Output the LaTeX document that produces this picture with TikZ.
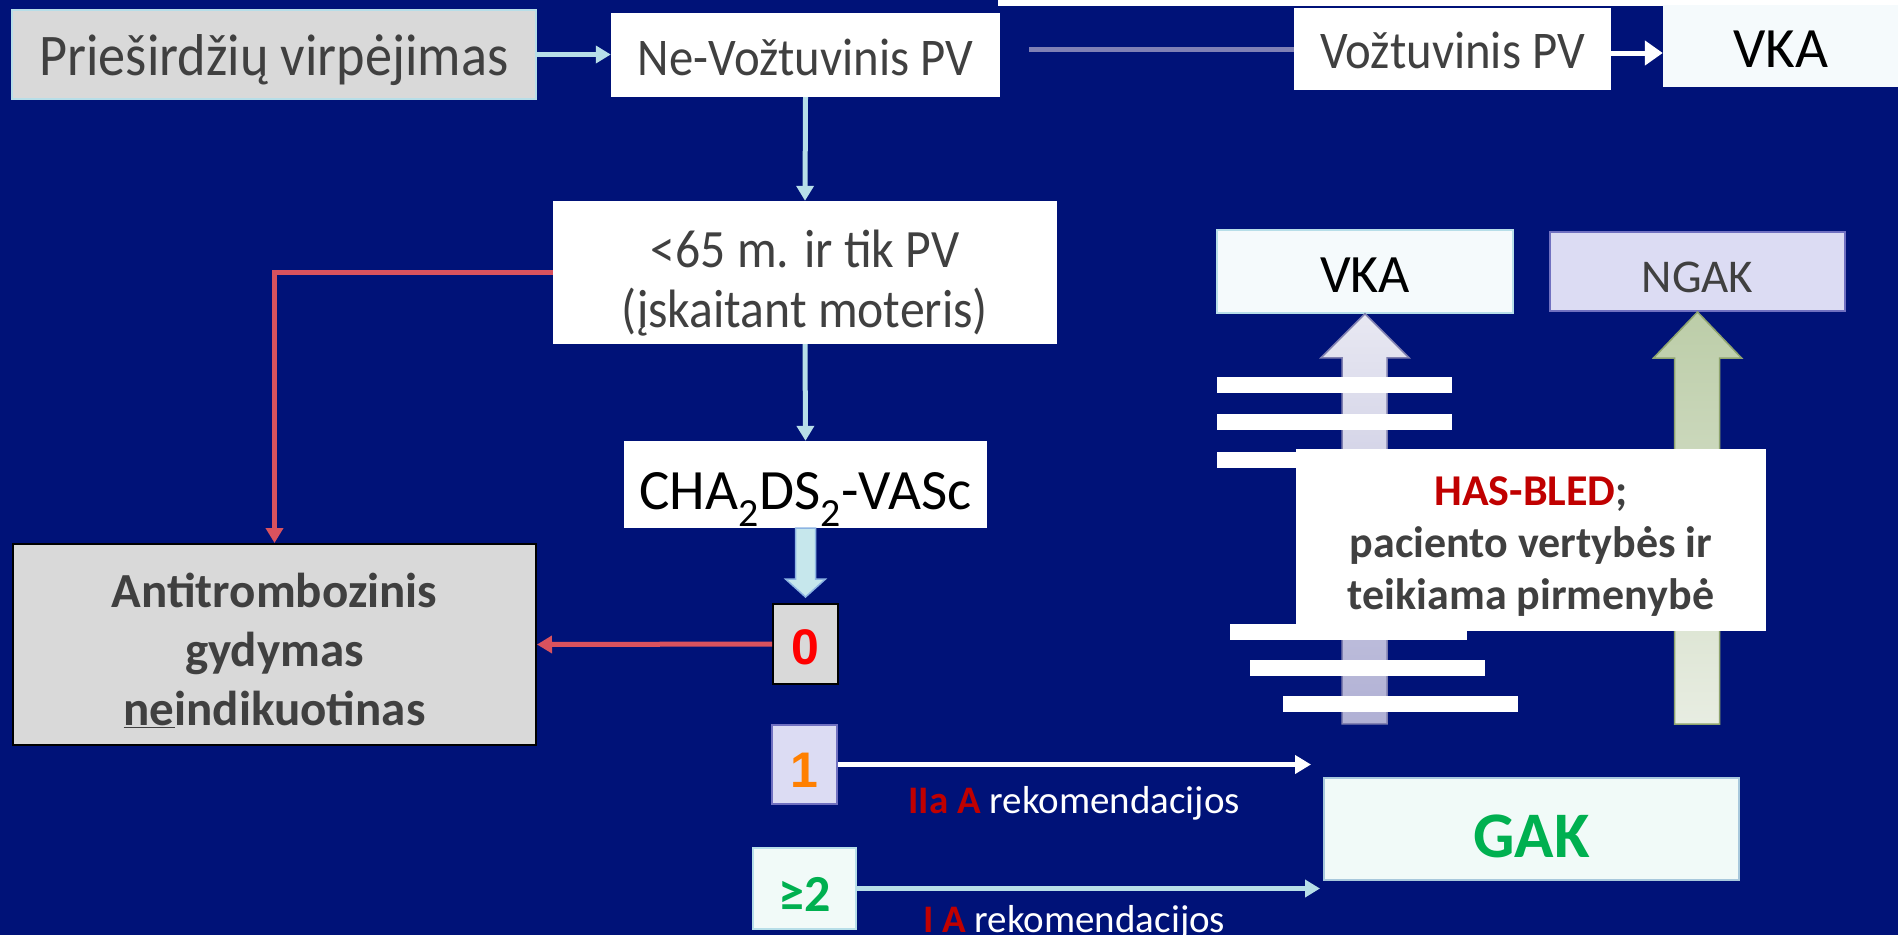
\documentclass[tikz,border=0pt]{standalone}
\usepackage{fontspec}
\setmainfont{Carlito}
\newfontfamily\narrowfont{Carlito}[FakeStretch=0.92]
\newfontfamily\arialfont{Liberation Sans}
\usetikzlibrary{arrows.meta,calc}

\definecolor{navybg}{HTML}{001278}
\definecolor{boxgray}{HTML}{D9D9D9}
\definecolor{txtgray}{HTML}{404040}
\definecolor{paleblue}{HTML}{B7DEE8}
\definecolor{lineblue}{HTML}{7F80B5}
\definecolor{redline}{HTML}{D9525E}
\definecolor{darkred}{HTML}{C00000}
\definecolor{gakgreen}{HTML}{00B050}
\definecolor{lavender}{HTML}{DCDCF3}
\definecolor{lavborder}{HTML}{7070C0}
\definecolor{mint}{HTML}{F1FAF8}
\definecolor{icewhite}{HTML}{F5FAFC}

\newcommand{\fsz}[2]{\fontsize{#1}{#2}\selectfont}

\begin{document}
\begin{tikzpicture}[
    x=1pt, y=-1pt,
    rect/.style={inner sep=0pt, align=center, text=txtgray},
    lightarrow/.style={draw=paleblue, line width=5pt, -{Triangle[length=15pt,width=17pt]}},
    redarrow/.style={draw=redline, line width=5pt, -{Triangle[length=15pt,width=17pt]}},
    whitearrow/.style={draw=white, line width=5pt, -{Triangle[length=16pt,width=18pt]}},
    bar/.style={fill=white}
]

\fill[navybg] (0,0) rectangle (1898,935);
\useasboundingbox (0,0) rectangle (1898,935);
\fill[white] (998,0) rectangle (1898,6);

% Top row
\node[rect, fill=boxgray, draw=paleblue, line width=1.5pt, minimum width=524, minimum height=89,
      text height=42pt, text depth=0pt, font=\narrowfont\fsz{59}{68}] (af) at (274,54.5) {Prieširdžių virpėjimas};
\node[rect, fill=white, minimum width=389, minimum height=84, text height=40pt, text depth=0pt,
      font=\narrowfont\fsz{53}{62}] (nevalv) at (805.5,55) {Ne-Vožtuvinis PV};
\node[rect, fill=white, minimum width=317, minimum height=82, text height=38pt, text depth=0pt,
      font=\narrowfont\fsz{53}{62}] (valv) at (1452.5,49) {Vožtuvinis PV};
\node[rect, fill=icewhite, minimum width=235, minimum height=82, text=black, text height=42pt, text depth=0pt,
      font=\fsz{57}{66}] (vkatop) at (1780.5,46) {VKA};

\draw[lightarrow] (af.east) -- (af.east -| nevalv.west);
\coordinate (graystart) at (1029,49);
\draw[draw=lineblue, line width=5pt] (graystart) -- (valv.west);
\draw[whitearrow, -{Triangle[length=18pt,width=24pt]}] ([yshift=-4pt]valv.east) -- ([yshift=-4pt]valv.east -| vkatop.west);

% Central column
\node[rect, fill=white, minimum width=504, minimum height=143, text height=110pt, text depth=0pt,
      font=\narrowfont\fsz{54}{60}] (age) at (805,272.5)
    {<65 m. ir tik PV\\(įskaitant moteris)};
\node[rect, fill=white, minimum width=363, minimum height=87, text=black, text height=49pt, text depth=0pt,
      font=\fsz{57}{66}] (cha) at (805.5,484.5)
    {CHA\textsubscript{2}DS\textsubscript{2}-VASc};
\node[rect, fill=boxgray, draw=black, line width=2pt, minimum width=65, minimum height=80, text=red,
      text height=40pt, text depth=0pt, font=\arialfont\bfseries\fsz{50}{60}] (zero) at (805.5,644) {0};
\node[rect, fill=lavender, draw=lavborder, line width=2pt, minimum width=65, minimum height=79,
      text={rgb,255:red,255;green,128;blue,0}, text height=45pt, text depth=0pt,
      font=\arialfont\bfseries\fsz{50}{60}] (one) at (804.5,764.5) {1};
\node[rect, fill=mint, draw=paleblue, line width=2pt, minimum width=103, minimum height=81, text=gakgreen,
      text height=45pt, text depth=0pt, font=\bfseries\fsz{52}{60}] (two) at (804.5,888.5) {≥2};

\draw[lightarrow] (nevalv.south) -- (age.north);
\draw[lightarrow] (age.south) -- (cha.north);
\draw[fill={rgb,255:red,198;green,231;blue,236}, draw={rgb,255:red,141;green,180;blue,226}, line width=1.5pt]
    ($(cha.south)+(-10,0)$) -- ($(zero.north)+(-10,-24)$) -- ($(zero.north)+(-20,-24)$)
    -- ($(zero.north)+(0,-6)$) -- ($(zero.north)+(20,-24)$) -- ($(zero.north)+(10,-24)$)
    -- ($(cha.south)+(10,0)$) -- cycle;

% Not indicated
\node[rect, fill=boxgray, draw=black, line width=2pt, minimum width=523, minimum height=201,
      text height=162pt, text depth=0pt, font=\bfseries\fsz{49}{59}] (anti) at (274.5,644.5)
    {Antitrombozinis\\gydymas\\\underline{ne}indikuotinas};
\draw[redarrow] (age.west) -| (anti.north);
\draw[redarrow] (zero.west) -- (anti.east);

% Right side: VKA / NGAK
\node[rect, fill=icewhite, draw=paleblue, line width=1.5pt, minimum width=296, minimum height=83, text=black,
      text height=41pt, text depth=0pt, font=\fsz{54}{64}] (vkamid) at (1365,271.5) {VKA};
\node[rect, fill=lavender, draw=lavborder, line width=2pt, minimum width=295, minimum height=79,
      text height=41pt, text depth=0pt, font=\fsz{47}{56}] (ngak) at (1697.5,271.5) {NGAK};

\shadedraw[top color={rgb,255:red,232;green,232;blue,242}, bottom color={rgb,255:red,176;green,176;blue,212},
      draw={rgb,255:red,127;green,127;blue,176}, line width=1.5pt]
    ($(vkamid.south)+(-23,410)$) -- ($(vkamid.south)+(-23,44)$) -- ($(vkamid.south)+(-44,44)$)
    -- (vkamid.south) -- ($(vkamid.south)+(44,44)$) -- ($(vkamid.south)+(22,44)$)
    -- ($(vkamid.south)+(22,410)$) -- cycle;
\shadedraw[top color={rgb,255:red,188;green,205;blue,168}, bottom color={rgb,255:red,232;green,237;blue,226},
      draw={rgb,255:red,143;green,164;blue,110}, line width=1.5pt]
    ($(ngak.south)+(-23,412)$) -- ($(ngak.south)+(-23,46)$) -- ($(ngak.south)+(-44,46)$)
    -- (ngak.south) -- ($(ngak.south)+(44,46)$) -- ($(ngak.south)+(22,46)$)
    -- ($(ngak.south)+(22,412)$) -- cycle;

\foreach \xa/\xb/\ya in {1217/1452/377, 1217/1452/414, 1217/1452/452, 1230/1467/624, 1250/1485/660, 1283/1518/696}
    \fill[bar] (\xa,\ya) rectangle (\xb,\ya+16);

\node[rect, fill=white, minimum width=470, minimum height=182, text height=139pt, text depth=0pt,
      font=\bfseries\fsz{44}{52}] (hasbled) at (1531,540)
    {\textcolor{darkred}{HAS-BLED};\\paciento vertybės ir\\teikiama pirmenybė};

% GAK and recommendations
\node[rect, fill=mint, draw={rgb,255:red,168;green,200;blue,220}, line width=2pt, minimum width=415, minimum height=102,
      text=gakgreen, text height=56pt, text depth=0pt, font=\bfseries\fsz{65}{76}] (gak) at (1531.5,829) {GAK};

\coordinate (oneend) at (1311,764.5);
\coordinate (twoend) at (1320,888.5);
\draw[whitearrow] (one.east) -- (oneend);
\draw[lightarrow] (two.east) -- (twoend);

\node[anchor=base west, inner sep=0pt, text=white, font=\fsz{39}{47}] (reca) at (908,813)
    {\textcolor{darkred}{\bfseries IIa A} rekomendacijos};
\node[anchor=base west, inner sep=0pt, text=white, font=\fsz{39}{47}] (recb) at (923,932)
    {\textcolor{darkred}{\bfseries I A} rekomendacijos};

\end{tikzpicture}
\end{document}
